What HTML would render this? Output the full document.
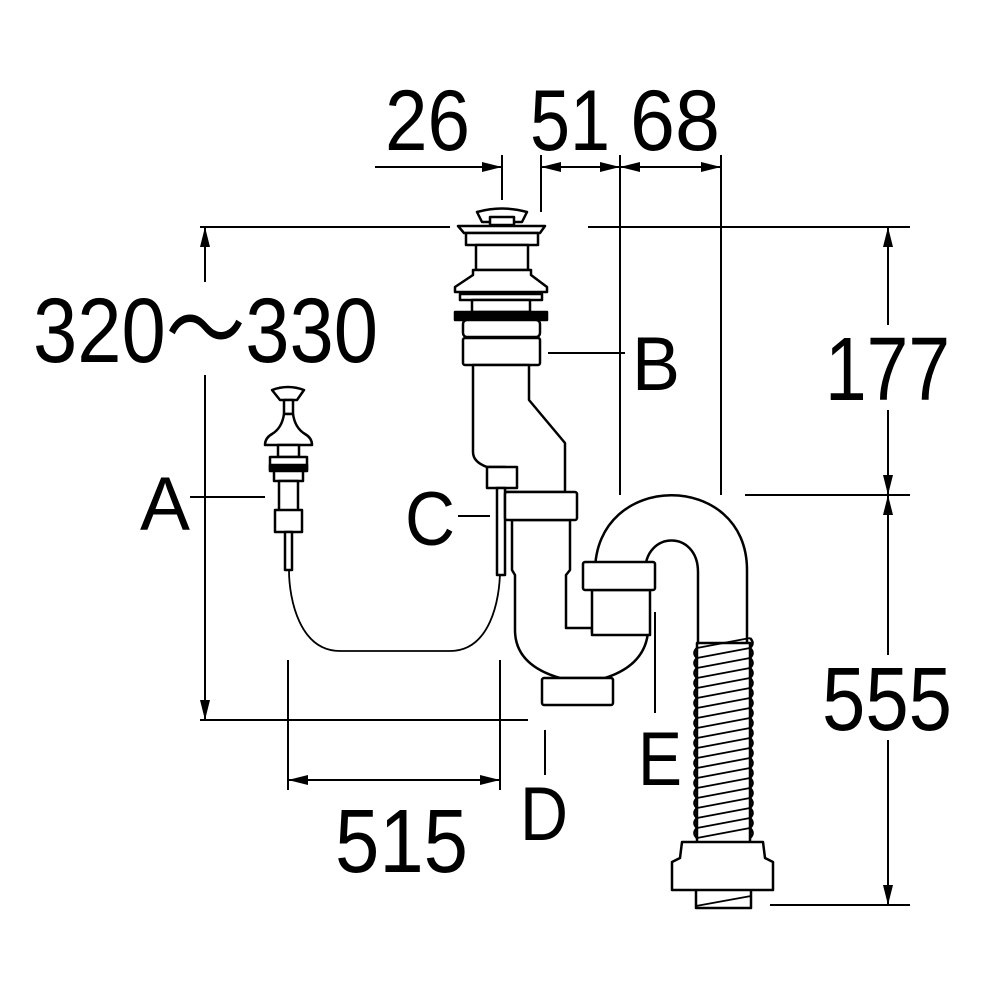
<!DOCTYPE html>
<html><head><meta charset="utf-8"><style>html,body{margin:0;padding:0;background:#fff}svg{display:block}</style></head>
<body>
<svg width="1000" height="1000" viewBox="0 0 1000 1000" xmlns="http://www.w3.org/2000/svg">
<defs>
<marker id="ar" viewBox="0 0 20 10" refX="20" refY="5" markerWidth="20" markerHeight="10" markerUnits="userSpaceOnUse" orient="auto-start-reverse"><path d="M0,0 L20,5 L0,10 Z" fill="#000"/></marker>
</defs>
<g font-family="Liberation Sans, sans-serif" fill="#000">
<text x="385" y="150" font-size="86" textLength="85" lengthAdjust="spacingAndGlyphs">26</text>
<text x="530" y="150" font-size="86" textLength="80" lengthAdjust="spacingAndGlyphs">51</text>
<text x="630" y="150" font-size="86" textLength="90" lengthAdjust="spacingAndGlyphs">68</text>
<text x="33" y="362" font-size="92" textLength="345" lengthAdjust="spacingAndGlyphs">320～330</text>
<text x="825" y="400" font-size="90" textLength="125" lengthAdjust="spacingAndGlyphs">177</text>
<text x="822" y="730" font-size="90" textLength="130" lengthAdjust="spacingAndGlyphs">555</text>
<text x="335" y="872" font-size="90" textLength="133" lengthAdjust="spacingAndGlyphs">515</text>
<text x="140" y="530" font-size="76" textLength="50" lengthAdjust="spacingAndGlyphs">A</text>
<text x="632" y="390" font-size="76" textLength="48" lengthAdjust="spacingAndGlyphs">B</text>
<text x="405" y="545" font-size="76" textLength="50" lengthAdjust="spacingAndGlyphs">C</text>
<text x="520" y="840" font-size="76" textLength="48" lengthAdjust="spacingAndGlyphs">D</text>
<text x="638" y="785" font-size="76" textLength="44" lengthAdjust="spacingAndGlyphs">E</text>
</g>
<g stroke="#000" stroke-width="2" fill="none">
<line x1="375" y1="167" x2="502" y2="167" marker-end="url(#ar)"/>
<line x1="502" y1="155" x2="502" y2="200"/>
<line x1="541" y1="155" x2="541" y2="212"/>
<line x1="620" y1="155" x2="620" y2="495"/>
<line x1="721" y1="155" x2="721" y2="495"/>
<line x1="541" y1="167" x2="620" y2="167" marker-start="url(#ar)" marker-end="url(#ar)"/>
<line x1="620" y1="167" x2="721" y2="167" marker-start="url(#ar)" marker-end="url(#ar)"/>
<line x1="200" y1="227" x2="450" y2="227"/>
<line x1="588" y1="227" x2="910" y2="227"/>
<line x1="200" y1="720" x2="528" y2="720"/>
<line x1="745" y1="495" x2="910" y2="495"/>
<line x1="770" y1="905" x2="910" y2="905"/>
<line x1="205" y1="227" x2="205" y2="282" marker-start="url(#ar)"/>
<line x1="205" y1="375" x2="205" y2="720" marker-end="url(#ar)"/>
<line x1="888" y1="227" x2="888" y2="325" marker-start="url(#ar)"/>
<line x1="888" y1="410" x2="888" y2="495" marker-end="url(#ar)"/>
<line x1="888" y1="495" x2="888" y2="655" marker-start="url(#ar)"/>
<line x1="888" y1="740" x2="888" y2="905" marker-end="url(#ar)"/>
<line x1="288" y1="660" x2="288" y2="790"/>
<line x1="500" y1="660" x2="500" y2="790"/>
<line x1="288" y1="780" x2="500" y2="780" marker-start="url(#ar)" marker-end="url(#ar)"/>
<line x1="190" y1="497" x2="265" y2="497"/>
<line x1="548" y1="353" x2="625" y2="353"/>
<line x1="458" y1="516" x2="490" y2="516"/>
<line x1="545" y1="730" x2="545" y2="775"/>
<line x1="655" y1="612" x2="655" y2="713"/>
</g>
<g stroke="#000" stroke-width="2.5" fill="#fff" stroke-linejoin="round">
<path d="M289,570 C289,600 300,651 340,651 L450,651 C490,651 500,600 500,570" fill="none" stroke-width="1.8"/>
<path d="M272,390 Q288,384 304,390 L297,400 L280,400 Z"/>
<rect x="284" y="400" width="9" height="14"/>
<path d="M284,414 L293,414 Q295,428 305,434 Q312,438 312,445 L265,445 Q265,438 272,434 Q282,428 284,414 Z"/>
<rect x="278" y="445" width="21" height="12"/>
<rect x="270" y="457" width="37" height="14"/>
<rect x="270" y="465" width="37" height="5" fill="#000"/>
<rect x="274" y="471" width="29" height="10"/>
<rect x="279" y="481" width="19" height="32"/>
<rect x="275" y="510" width="27" height="22"/>
<rect x="285" y="532" width="7" height="38"/>
<path d="M477,212 Q502,205 527,212 L522,222 L482,222 Z"/>
<path d="M490,217 L514,217 L514,225 L490,225 Z"/>
<path d="M458,226 L545,226 L540,233 L464,233 Z"/>
<rect x="466" y="233" width="72" height="12"/>
<rect x="476" y="245" width="52" height="25"/>
<path d="M473,270 L531,270 L531,275 L547,287 L547,292 L455,292 L455,287 L473,275 Z"/>
<rect x="460" y="294" width="82" height="6"/>
<rect x="472" y="300" width="58" height="12"/>
<rect x="455" y="312" width="92" height="8" fill="#000"/>
<rect x="463" y="320" width="77" height="17" rx="4"/>
<rect x="463" y="338" width="77" height="27" rx="2"/>
<path d="M473,365 L529,365 L529,400 L565,443 L565,492 L505,492 L505,467 L487,467 Q473,462 473,452 Z"/>
<rect x="487" y="467" width="30" height="21"/>
<rect x="497" y="488" width="8" height="87"/>
<path d="M512,520 L570,520 L570,570 L566,575 L566,628 L592,628 L592,632 L648,632 Q645,665 605,678 L560,678 Q515,665 515,630 L515,575 L512,570 Z"/>
<rect x="505" y="492" width="72" height="28" rx="2"/>
<rect x="542" y="678" width="71" height="27" rx="2"/>
<path d="M595,572 C595,470 747,470 747,570 L747,645 L698,645 L698,572 C698,530 645,530 645,572 Z"/>
<rect x="592" y="590" width="58" height="45"/>
<rect x="583" y="562" width="72" height="28" rx="2"/>
<rect x="697" y="643" width="53" height="200"/>
<path d="M697,648 q-5,5 0,10 q-5,5 0,10 q-5,5 0,10 q-5,5 0,10 q-5,5 0,10 q-5,5 0,10 q-5,5 0,10 q-5,5 0,10 q-5,5 0,10 q-5,5 0,10 q-5,5 0,10 q-5,5 0,10 q-5,5 0,10 q-5,5 0,10 q-5,5 0,10 q-5,5 0,10 q-5,5 0,10 q-5,5 0,10 q-5,5 0,10" fill="none"/>
<path d="M750,638 q5,5 0,10 q5,5 0,10 q5,5 0,10 q5,5 0,10 q5,5 0,10 q5,5 0,10 q5,5 0,10 q5,5 0,10 q5,5 0,10 q5,5 0,10 q5,5 0,10 q5,5 0,10 q5,5 0,10 q5,5 0,10 q5,5 0,10 q5,5 0,10 q5,5 0,10 q5,5 0,10 q5,5 0,10 q5,5 0,10" fill="none"/>
<g stroke-width="1.8">
<line x1="697" y1="648" x2="750" y2="638"/><line x1="697" y1="658" x2="750" y2="648"/><line x1="697" y1="668" x2="750" y2="658"/><line x1="697" y1="678" x2="750" y2="668"/><line x1="697" y1="688" x2="750" y2="678"/><line x1="697" y1="698" x2="750" y2="688"/><line x1="697" y1="708" x2="750" y2="698"/><line x1="697" y1="718" x2="750" y2="708"/><line x1="697" y1="728" x2="750" y2="718"/><line x1="697" y1="738" x2="750" y2="728"/><line x1="697" y1="748" x2="750" y2="738"/><line x1="697" y1="758" x2="750" y2="748"/><line x1="697" y1="768" x2="750" y2="758"/><line x1="697" y1="778" x2="750" y2="768"/><line x1="697" y1="788" x2="750" y2="778"/><line x1="697" y1="798" x2="750" y2="788"/><line x1="697" y1="808" x2="750" y2="798"/><line x1="697" y1="818" x2="750" y2="808"/><line x1="697" y1="828" x2="750" y2="818"/><line x1="697" y1="838" x2="750" y2="828"/>
</g>
<rect x="696" y="888" width="55" height="20"/>
<line x1="696" y1="906" x2="751" y2="896" stroke-width="1.8"/>
<path d="M682,842 L763,842 L765,858 L773,862 L773,890 L672,890 L672,862 L680,858 Z"/>
</g>
</svg>
</body></html>
